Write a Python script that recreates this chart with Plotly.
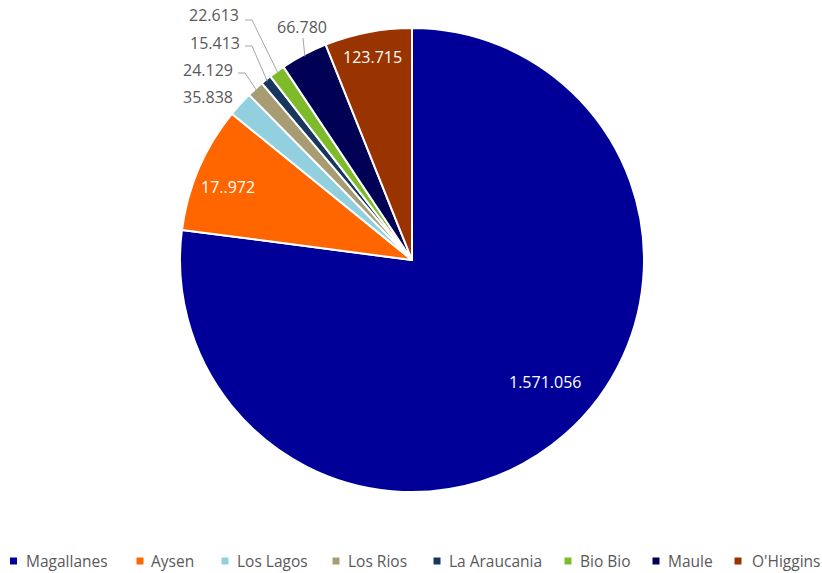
import math
import plotly.graph_objects as go

# ---- data ----
regions = ["Magallanes", "Aysen", "Los Lagos", "Los Rios", "La Araucania", "Bio Bio", "Maule", "O'Higgins"]
values = [1571056, 178972, 35838, 24129, 15413, 22613, 66780, 123715]
label_texts = ["1.571.056", "17..972", "35.838", "24.129", "15.413", "22.613", "66.780", "123.715"]

# ---- styles / layout ----
colors = ["#000099", "#FF6600", "#92D0E0", "#A79C74", "#17375E", "#7DBB2B", "#000055", "#993300"]
W, H = 822, 573
CX, CY, R = 412, 260, 232
FONT = "Open Sans"
# label centers in pixels (layout)
label_pos = [(545, 382), (228, 187), (208, 97), (208, 70), (215, 43), (214, 15), (302, 27), (372, 57)]
label_inside = [True, True, False, False, False, False, False, True]
# leader elbow points in pixels (layout)
leaders = {
    3: [(238, 73), (245, 73)],
    4: [(245, 46), (252, 46)],
    5: [(245, 20), (252, 20)],
    6: [(303, 38)],
}
# legend layout: square centre x and text left x (pixels)
legend_sq_x = [13.5, 140, 225, 336, 437, 568, 656, 738]
legend_tx_x = [24, 149, 235, 346, 447, 578, 666, 750]
LEG_Y = 561
SQ = 7


def px(x):
    return x / W


def py(y):
    return 1 - y / H


fig = go.Figure(go.Pie(
    labels=regions, values=values, sort=False, direction="clockwise", rotation=0,
    marker=dict(colors=colors, line=dict(color="white", width=2)),
    textinfo="none", hoverinfo="label+value",
    domain=dict(x=[px(CX - R), px(CX + R)], y=[py(CY + R), py(CY - R)]),
))

# slice mid angles from data
total = sum(values)
cum = 0
mids = []
for v in values:
    mids.append((cum + v / 2) / total * 2 * math.pi)
    cum += v

annotations = []
for i, t in enumerate(label_texts):
    x, y = label_pos[i]
    annotations.append(dict(
        x=px(x), y=py(y), xref="paper", yref="paper", text=t, showarrow=False,
        xanchor="center", yanchor="middle",
        font=dict(family=FONT, size=16, color="white" if label_inside[i] else "#595959"),
    ))

shapes = []
for i, pts in leaders.items():
    a = mids[i]
    ex = CX + (R - 2) * math.sin(a)
    ey = CY - (R - 2) * math.cos(a)
    allpts = pts + [(ex, ey)]
    path = "M " + " L ".join(f"{px(x):.5f},{py(y):.5f}" for x, y in allpts)
    shapes.append(dict(type="path", path=path, xref="paper", yref="paper",
                       line=dict(color="#A6A6A6", width=1)))

# custom legend
for i, name in enumerate(regions):
    sx = legend_sq_x[i]
    shapes.append(dict(type="rect", xref="paper", yref="paper",
                       x0=px(sx - SQ / 2), x1=px(sx + SQ / 2),
                       y0=py(LEG_Y + SQ / 2), y1=py(LEG_Y - SQ / 2),
                       fillcolor=colors[i], line=dict(width=0)))
    annotations.append(dict(
        x=px(legend_tx_x[i]), y=py(LEG_Y), xref="paper", yref="paper", text=name,
        showarrow=False, xanchor="left", yanchor="middle",
        font=dict(family=FONT, size=15.5, color="#595959"),
    ))

fig.update_layout(
    width=W, height=H,
    margin=dict(l=0, r=0, t=0, b=0, autoexpand=False),
    paper_bgcolor="white", plot_bgcolor="white",
    font=dict(family=FONT, size=14, color="#595959"),
    showlegend=False,
    annotations=annotations, shapes=shapes,
)

fig.write_html("out.html", config={"displayModeBar": False},
               post_script="document.body.style.margin='0px';")
